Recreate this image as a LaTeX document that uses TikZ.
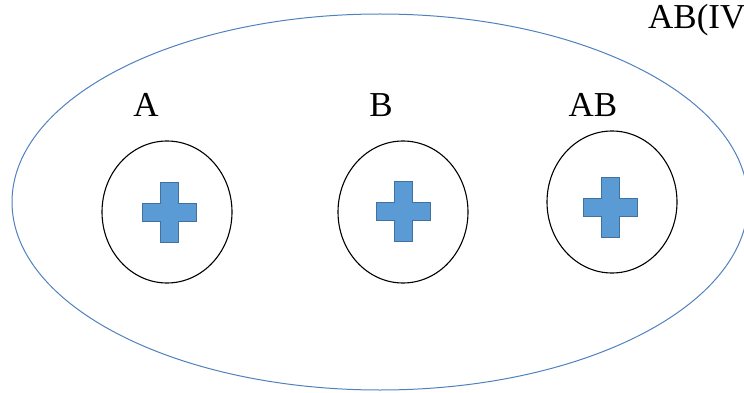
\documentclass[tikz,border=0pt]{standalone}
\usepackage{fontspec}
\setmainfont{Liberation Serif}
\usetikzlibrary{shapes.geometric}

\definecolor{outerblue}{HTML}{4F81BD}
\definecolor{plusfill}{HTML}{5B9BD5}
\definecolor{plusline}{HTML}{41719C}

% blue plus sign centred on a coordinate
\newcommand{\bloodplus}[1]{%
  \fill[plusfill,draw=plusline,line width=0.6pt,shift={(#1)}]
    (-9,-30) -- (9,-30) -- (9,-9) -- (27,-9) -- (27,9) -- (9,9) -- (9,30)
    -- (-9,30) -- (-9,9) -- (-27,9) -- (-27,-9) -- (-9,-9) -- cycle;}

\begin{document}
\begin{tikzpicture}[x=1pt,y=-1pt]
  \tikzstyle{cell}=[draw,ellipse,line width=1.1pt,minimum width=130pt,minimum height=142pt,inner sep=0pt]
  \tikzstyle{lbl}=[anchor=base,inner sep=0pt,font=\fontsize{35}{40}\selectfont]
  \useasboundingbox (0,0) rectangle (744,393);
  \clip (0,0) rectangle (744,393);
  \node[draw=outerblue,ellipse,line width=1pt,minimum width=736pt,minimum height=376pt,inner sep=0pt] (serum) at (380,202) {};
  \node[lbl,anchor=base west] (group) at (648,29) {AB(IV};
  \node[cell] (cellA) at (167,212) {};
  \node[cell] (cellB) at (403,212) {};
  \node[cell] (cellAB) at (612,202) {};
  \node[lbl] (labA) at (146,117) {A};
  \node[lbl] (labB) at (381,117) {B};
  \node[lbl] (labAB) at (593,117) {AB};
  \bloodplus{169,212}
  \bloodplus{403,211}
  \bloodplus{610,207}
\end{tikzpicture}
\end{document}
